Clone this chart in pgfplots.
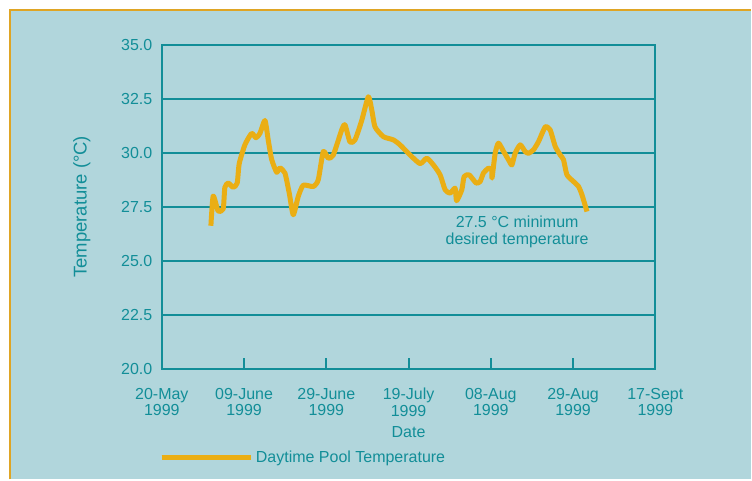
\documentclass[border=0pt]{standalone}
\usepackage{pgfplots}
\pgfplotsset{compat=1.18}
\usepackage{fontspec}
\setmainfont{Liberation Sans}
\definecolor{bg}{HTML}{B1D6DC}
\definecolor{tealc}{HTML}{128E98}
\definecolor{gold}{HTML}{EAAE14}
\definecolor{edge}{HTML}{DFA524}
\newcommand{\fs}{\fontsize{16bp}{16.5bp}\selectfont}
\begin{document}
\begin{tikzpicture}
\path (0bp,0bp) rectangle (752bp,480bp);
\fill[bg] (9bp,0bp) rectangle (752bp,471bp);
\draw[edge, line width=1.6bp] (9.8bp,0bp) -- (9.8bp,470.2bp) -- (752bp,470.2bp);
\begin{axis}[
  at={(162bp,111bp)}, anchor=south west,
  scale only axis, width=494bp, height=324bp,
  xmin=0, xmax=120, ymin=20, ymax=35,
  axis line style={tealc, line width=2bp},
  tick pos=left, tick align=inside,
  major tick length=11bp,
  xtick={0,20,40,60,80,100,120},
  xticklabels={{20-May\\1999},{09-June\\1999},{29-June\\1999},{19-July\\1999},{08-Aug\\1999},{29-Aug\\1999},{17-Sept\\1999}},
  xtick style={tealc, line width=2bp},
  ytick={20,22.5,25,27.5,30,32.5,35},
  ytick style={draw=none},
  ymajorgrids, grid style={tealc, line width=2bp},
  /pgf/number format/.cd, fixed, fixed zerofill, precision=1, assume math mode=true,
  /pgfplots/.cd,
  xticklabel style={align=center, font=\fs, text=tealc, yshift=-16bp},
  yticklabel style={font=\fs, text=tealc, xshift=-6bp},
  xlabel={Date}, ylabel={Temperature (°C)},
  xlabel style={font=\fs, text=tealc, at={(axis description cs:0.5,-0.197)}, anchor=center},
  ylabel style={font=\fontsize{18.5bp}{19bp}\selectfont, text=tealc, at={(axis description cs:-0.162,0.5)}, anchor=center},
  legend style={at={(axis description cs:0,-0.274)}, anchor=west, xshift=-3bp, draw=none, fill=none, inner sep=0pt, font=\fs, text=tealc, legend cell align=left},
  legend image code/.code={\draw[#1, line width=5bp] (0bp,0bp) -- (80bp,0bp); \path (0bp,0bp) -- (90bp,0bp);},
]
\addplot[gold, line width=5bp, smooth, tension=0.35, line join=round] coordinates {
(11.93,26.62) (12.49,28.0) (13.70,27.3) (14.92,27.4) (15.33,28.4) (16.14,28.6)
(17.36,28.4) (18.33,28.6) (18.82,29.5) (20.20,30.37) (21.83,30.9) (22.88,30.7)
(23.85,30.9) (25.07,31.5) (25.87,30.6) (26.70,29.7) (27.92,29.1) (28.72,29.3)
(29.94,29.06) (30.99,28.13) (31.96,27.13) (33.18,27.98) (34.39,28.5) (36.83,28.44)
(38.04,28.75) (39.26,30.06) (40.48,29.75) (41.70,29.9) (43.74,31.06) (44.54,31.3)
(45.76,30.5) (46.98,30.6) (48.61,31.5) (50.22,32.6) (51.04,32.0) (51.85,31.2)
(53.87,30.75) (56.30,30.6) (57.93,30.37) (60.37,29.9) (62.80,29.5) (64.43,29.75)
(66.04,29.44) (67.67,28.98) (68.89,28.29) (70.10,28.13) (71.32,28.36) (71.68,27.78)
(72.95,28.29) (73.51,28.9) (74.73,28.98) (76.43,28.6) (77.40,28.67) (78.21,29.06)
(79.43,29.29) (80.25,29.2) (80.30,28.83) (81.06,29.98) (81.86,30.45) (83.08,30.07)
(84.30,29.68) (85.12,29.44) (85.92,29.98) (87.14,30.37) (88.36,30.06) (89.16,29.98)
(90.38,30.14) (91.60,30.52) (93.23,31.2) (94.44,31.06) (95.66,30.3) (96.88,29.9)
(97.68,29.68) (98.51,28.98) (100.11,28.67) (101.33,28.44) (102.16,28.06) (103.38,27.28)
};
\addlegendentry{Daytime Pool Temperature}
\node[align=center, font=\fs, text=tealc] at (axis cs:86.4,26.34) {27.5 °C minimum\\desired temperature};
\end{axis}
\end{tikzpicture}
\end{document}
